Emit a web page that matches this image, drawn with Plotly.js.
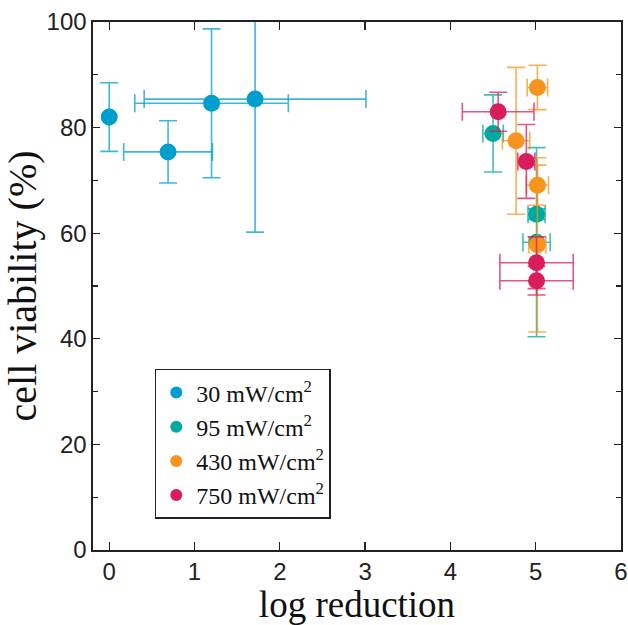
<!DOCTYPE html>
<html>
<head>
<meta charset="utf-8">
<script src="https://cdn.plot.ly/plotly-3.0.1.min.js"></script>
<style>html,body{margin:0;padding:0;background:#fff;}#chart{width:628px;height:625px;}</style>
</head>
<body>
<div id="chart"></div>
<script>
// Series names
const seriesNames = ["30 mW/cm<sup>2</sup>", "95 mW/cm<sup>2</sup>", "430 mW/cm<sup>2</sup>", "750 mW/cm<sup>2</sup>"];
const seriesColors = ["#009ECE", "#00A99D", "#F7941D", "#D91C5C"];

// 30 mW/cm2
const x30 = [0, 0.69, 1.20, 1.71];
const y30 = [82.0, 75.4, 84.6, 85.4];
const ex30 = [0, 0.52, 0.90, 1.30];
const ey30 = [6.5, 5.9, 14.1, 25.2];

// 95 mW/cm2
const x95 = [4.50, 5.01, 5.01];
const y95 = [78.9, 63.6, 58.3];
const ex95 = [0.12, 0.10, 0.16];
const ey95 = [7.3, 1.0, 17.9];

// 430 mW/cm2
const x430 = [5.02, 4.77, 5.02, 5.02];
const y430 = [87.6, 77.5, 69.1, 57.8];
const ex430 = [0.12, 0.16, 0.13, 0.10];
const ey430 = [4.2, 13.9, 3.8, 16.5];

// 750 mW/cm2
const x750 = [4.56, 4.89, 5.01, 5.01];
const y750 = [83.0, 73.6, 54.4, 51.0];
const ex750 = [0.42, 0.10, 0.43, 0.43];
const ey750 = [3.7, 7.0, 4.9, 2.7];

const xs = [x30, x95, x430, x750];
const ys = [y30, y95, y430, y750];
const exs = [ex30, ex95, ex430, ex750];
const eys = [ey30, ey95, ey430, ey750];

function fade(hex, a) {
  const r = parseInt(hex.slice(1,3),16), g = parseInt(hex.slice(3,5),16), b = parseInt(hex.slice(5,7),16);
  return `rgba(${r},${g},${b},${a})`;
}

const traces = seriesNames.map((name, i) => ({
  type: 'scatter',
  mode: 'markers',
  name: name,
  x: xs[i],
  y: ys[i],
  marker: {color: seriesColors[i], size: 17},
  error_x: {type: 'data', array: exs[i], visible: true, color: fade(seriesColors[i], 0.75), thickness: 1.6, width: 9},
  error_y: {type: 'data', array: eys[i], visible: true, color: fade(seriesColors[i], 0.75), thickness: 1.6, width: 9},
  cliponaxis: true
}));

const tickFont = {family: 'Liberation Sans, Arial, sans-serif', size: 24, color: '#222'};

const layout = {
  width: 628, height: 625,
  margin: {l: 93, r: 7, t: 22, b: 75},
  paper_bgcolor: '#fff', plot_bgcolor: '#fff',
  showlegend: true,
  legend: {
    x: 0.117, y: 0.343, xanchor: 'left', yanchor: 'top',
    bgcolor: '#fff', bordercolor: '#222', borderwidth: 1.5,
    font: {family: 'Liberation Serif, Times New Roman, serif', size: 24, color: '#111'},
    tracegroupgap: 0, itemsizing: 'constant'
  },
  xaxis: {
    range: [-0.19, 6], dtick: 1, tick0: 0,
    ticks: 'inside', ticklen: 8, tickwidth: 1.3, tickcolor: '#222',
    showline: true, linecolor: '#222', linewidth: 1.6, mirror: 'allticks',
    showgrid: false, zeroline: false,
    tickfont: tickFont,
    title: {text: 'log reduction', font: {family: 'Liberation Serif, Times New Roman, serif', size: 37, color: '#111'}, standoff: 4}
  },
  yaxis: {
    range: [0, 100], dtick: 20, tick0: 0,
    ticks: 'inside', ticklen: 7, tickwidth: 1.3, tickcolor: '#222',
    minor: {dtick: 10, ticks: 'inside', ticklen: 5, tickcolor: '#222', tickwidth: 1.2},
    showline: true, linecolor: '#222', linewidth: 1.6, mirror: 'allticks',
    showgrid: false, zeroline: false,
    tickfont: tickFont,
    title: {text: 'cell viability (%)', font: {family: 'Liberation Serif, Times New Roman, serif', size: 40, color: '#111'}, standoff: 0}
  }
};

Plotly.newPlot('chart', traces, layout, {displayModeBar: false, staticPlot: true});
</script>
</body>
</html>
